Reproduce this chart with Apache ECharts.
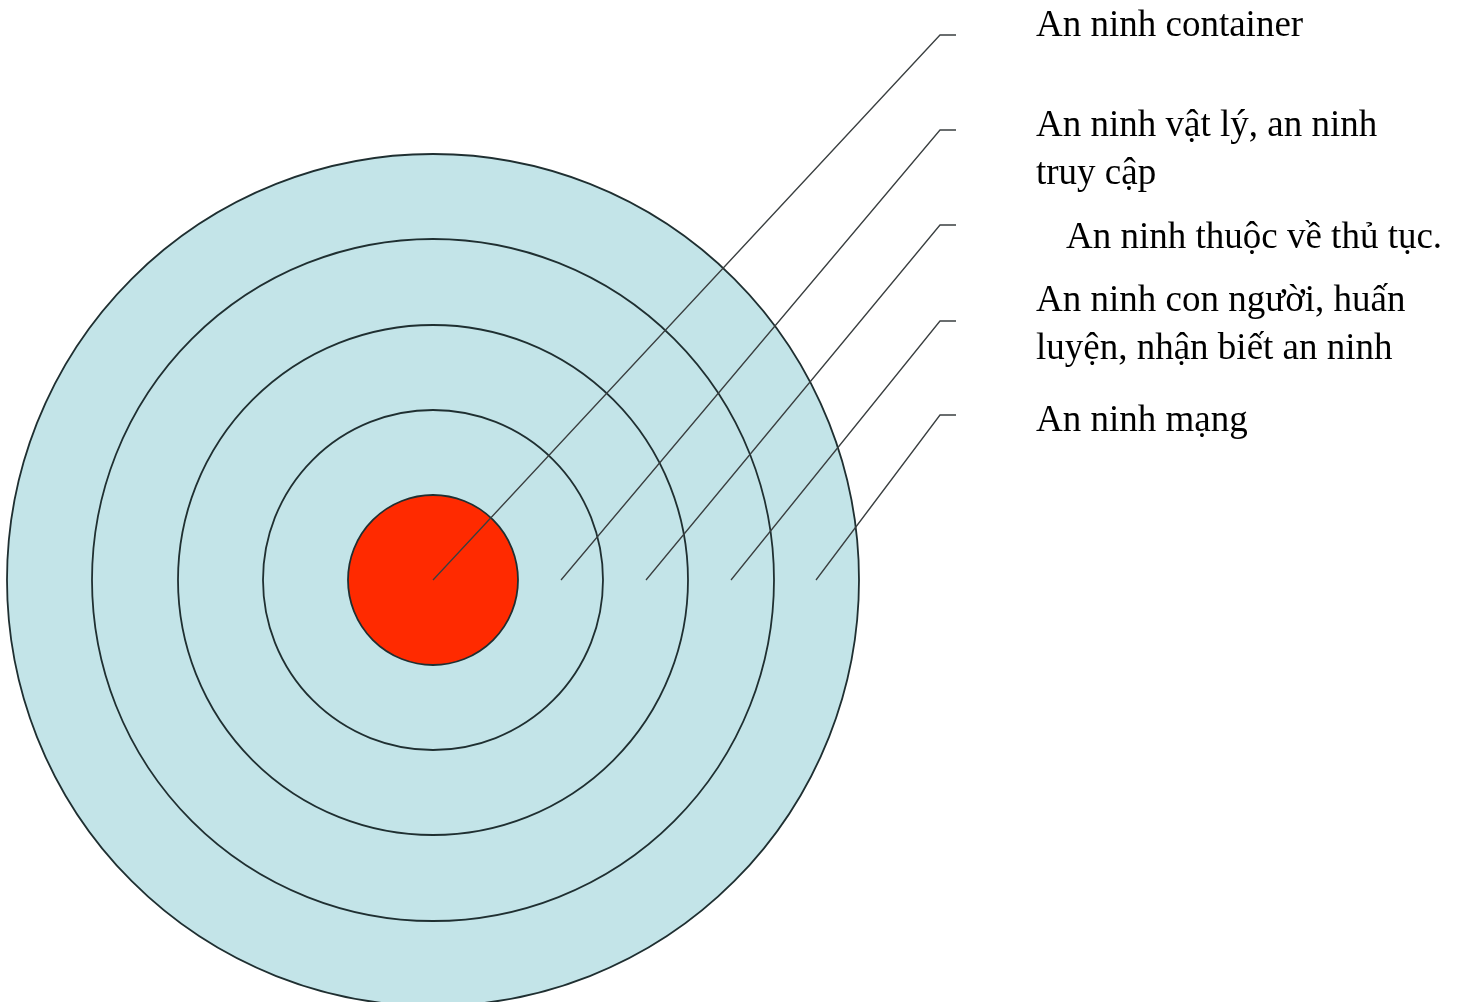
<!DOCTYPE html>
<html>
<head>
<meta charset="utf-8">
<script src="https://cdn.jsdelivr.net/npm/echarts@6/dist/echarts.min.js"></script>
<style>
  html, body { margin: 0; padding: 0; background: #fff; }
  #main { width: 1458px; height: 1002px; }
</style>
</head>
<body>
<div id="main"></div>
<script>
// target centre and ring radii (outer -> inner)
const center = [433, 580]
const ringRadii = [426, 341, 255, 170, 85]
const ringColors = ['#c3e4e8', '#c3e4e8', '#c3e4e8', '#c3e4e8', '#ff2a00']

// layer labels, top to bottom
const layerNames = [
  'An ninh container',
  'An ninh vật lý, an ninh\ntruy cập',
  'An ninh thuộc về thủ tục.',
  'An ninh con người, huấn\nluyện, nhận biết an ninh',
  'An ninh mạng',
]
const leaderStartX = [433, 561, 646, 731, 816]
const leaderBendX = [940, 940, 940, 940, 940]
const leaderEndX = [956, 956, 956, 956, 956]
const leaderY = [35, 130, 225, 321, 415]
const labelX = [1036, 1036, 1066, 1036, 1036]
const labelY = [26, 150, 238, 325, 421]

const chart = echarts.init(document.getElementById('main'))

const option = {
  animation: false,
  grid: { left: 0, right: 0, top: 0, bottom: 0 },
  xAxis: { type: 'value', min: 0, max: 1458, show: false },
  yAxis: { type: 'value', min: 0, max: 1002, inverse: true, show: false },
  series: [
    {
      type: 'custom',
      name: 'rings',
      data: ringRadii.map((r, i) => [center[0], center[1], r, i]),
      renderItem(params, api) {
        const c = api.coord([api.value(0), api.value(1)])
        const r = api.size([api.value(2), 0])[0]
        return {
          type: 'circle',
          shape: { cx: c[0], cy: c[1], r },
          style: {
            fill: ringColors[api.value(3)],
            stroke: '#1f2f31',
            lineWidth: 1.8,
          },
        }
      },
    },
    {
      type: 'custom',
      name: 'leaders',
      z: 3,
      data: leaderStartX.map((x, i) => [x, center[1], leaderBendX[i], leaderY[i], leaderEndX[i]]),
      renderItem(params, api) {
        const a = api.coord([api.value(0), api.value(1)])
        const b = api.coord([api.value(2), api.value(3)])
        const e = api.coord([api.value(4), api.value(3)])
        return {
          type: 'polyline',
          shape: { points: [a, b, e] },
          style: { fill: null, stroke: '#3a3f40', lineWidth: 1.3 },
        }
      },
    },
    {
      type: 'custom',
      name: 'labels',
      z: 4,
      data: layerNames.map((n, i) => [labelX[i], labelY[i], i]),
      renderItem(params, api) {
        const p = api.coord([api.value(0), api.value(1)])
        return {
          type: 'text',
          x: p[0],
          y: p[1],
          style: {
            text: layerNames[api.value(2)],
            fill: '#000',
            font: '37px "Liberation Serif", "Times New Roman", serif',
            lineHeight: 48,
            align: 'left',
            verticalAlign: 'middle',
          },
        }
      },
    },
  ],
}

chart.setOption(option)
</script>
</body>
</html>
